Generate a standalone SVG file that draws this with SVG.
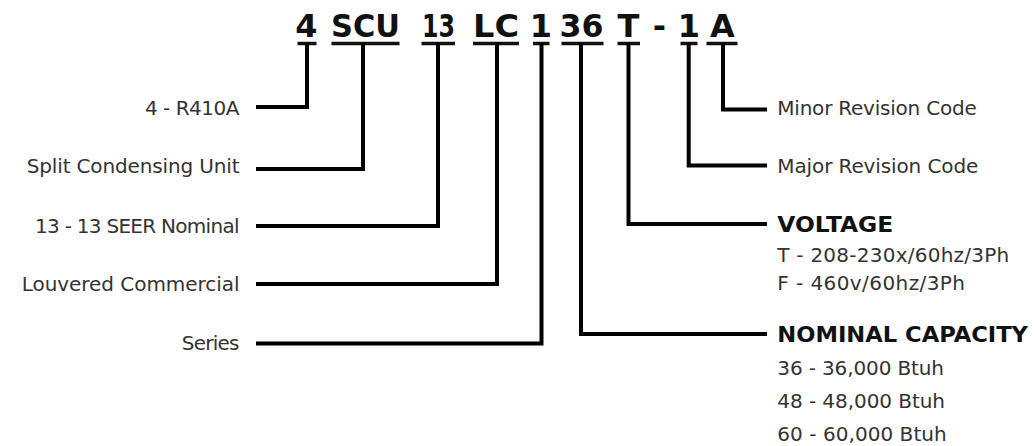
<svg xmlns="http://www.w3.org/2000/svg" width="1036" height="446" viewBox="0 0 1036 446">
<style>
.code{font-family:"DejaVu Sans","Liberation Sans",sans-serif;font-weight:bold;font-size:32px;fill:#111;text-anchor:middle}
.lbl{font-family:"DejaVu Sans","Liberation Sans",sans-serif;font-size:20px;fill:#333}
.l{text-anchor:end}
.hd{font-family:"DejaVu Sans","Liberation Sans",sans-serif;font-weight:bold;font-size:22px;fill:#111}
.ul{stroke:#111;stroke-width:3.5;fill:none}
.cn{stroke:#000;stroke-width:4;fill:none;stroke-linejoin:miter;stroke-linecap:butt}
</style>
<rect width="1036" height="446" fill="#fff"/>
<g id="code">
<g id="c-4"><text class="code" x="306.5" y="37">4</text><line class="ul" x1="297.5" y1="43.5" x2="316.5" y2="43.5"/></g>
<g id="c-scu"><text class="code" x="365.5" y="37" textLength="69" lengthAdjust="spacingAndGlyphs">SCU</text><line class="ul" x1="331.5" y1="43.5" x2="399.5" y2="43.5"/></g>
<g id="c-13"><text class="code" x="438.5" y="37" textLength="33" lengthAdjust="spacingAndGlyphs">13</text><line class="ul" x1="421.5" y1="43.5" x2="455" y2="43.5"/></g>
<g id="c-lc"><text class="code" x="496" y="37" textLength="46" lengthAdjust="spacingAndGlyphs">LC</text><line class="ul" x1="473" y1="43.5" x2="519" y2="43.5"/></g>
<g id="c-1a"><text class="code" x="541" y="37">1</text><line class="ul" x1="533" y1="43.5" x2="549.5" y2="43.5"/></g>
<g id="c-36"><text class="code" x="581.5" y="37" textLength="44" lengthAdjust="spacingAndGlyphs">36</text><line class="ul" x1="561.5" y1="43.5" x2="603.5" y2="43.5"/></g>
<g id="c-t"><text class="code" x="628.5" y="37">T</text><line class="ul" x1="617.5" y1="43.5" x2="640" y2="43.5"/></g>
<g id="c-dash"><text class="code" x="659.5" y="37">-</text></g>
<g id="c-1b"><text class="code" x="689" y="37">1</text><line class="ul" x1="680.5" y1="43.5" x2="697.5" y2="43.5"/></g>
<g id="c-a"><text class="code" x="722.5" y="37">A</text><line class="ul" x1="706.5" y1="43.5" x2="737.5" y2="43.5"/></g>
</g>
<g id="connectors">
<polyline class="cn" points="307,43 307,107 256,107"/>
<polyline class="cn" points="363,43 363,169 256,169"/>
<polyline class="cn" points="438,43 438,226 256,226"/>
<polyline class="cn" points="497,43 497,284 256,284"/>
<polyline class="cn" points="541.5,43 541.5,343.5 256,343.5"/>
<polyline class="cn" points="581,43 581,334 767,334"/>
<polyline class="cn" points="628.5,43 628.5,224 767,224"/>
<polyline class="cn" points="688.7,43 688.7,165.5 767,165.5"/>
<polyline class="cn" points="723,43 723,109.5 767,109.5"/>
</g>
<g id="n-refrigerant"><text class="lbl l" x="239.5" y="115" textLength="94.5">4 - R410A</text></g>
<g id="n-type"><text class="lbl l" x="239.5" y="173.3" textLength="212.8">Split Condensing Unit</text></g>
<g id="n-seer"><text class="lbl l" x="239.5" y="232.7" textLength="204.5">13 - 13 SEER Nominal</text></g>
<g id="n-cabinet"><text class="lbl l" x="239.5" y="290.7" textLength="217.8">Louvered Commercial</text></g>
<g id="n-series"><text class="lbl l" x="239.5" y="350" textLength="57.8">Series</text></g>
<g id="n-minor"><text class="lbl" x="777.3" y="115" textLength="199.4">Minor Revision Code</text></g>
<g id="n-major"><text class="lbl" x="777.3" y="172.7" textLength="201">Major Revision Code</text></g>
<g id="n-voltage">
<text class="hd" x="777.3" y="232" textLength="116" lengthAdjust="spacingAndGlyphs">VOLTAGE</text>
<text class="lbl" x="777.3" y="261.7" textLength="232">T - 208-230x/60hz/3Ph</text>
<text class="lbl" x="777.3" y="290" textLength="187.7">F - 460v/60hz/3Ph</text>
</g>
<g id="n-capacity">
<text class="hd" x="777.3" y="341.7" textLength="250.7" lengthAdjust="spacingAndGlyphs">NOMINAL CAPACITY</text>
<text class="lbl" x="777.3" y="375" textLength="166.7">36 - 36,000 Btuh</text>
<text class="lbl" x="777.3" y="408.3" textLength="167.7">48 - 48,000 Btuh</text>
<text class="lbl" x="777.3" y="440.7" textLength="169.4">60 - 60,000 Btuh</text>
</g>
</svg>
